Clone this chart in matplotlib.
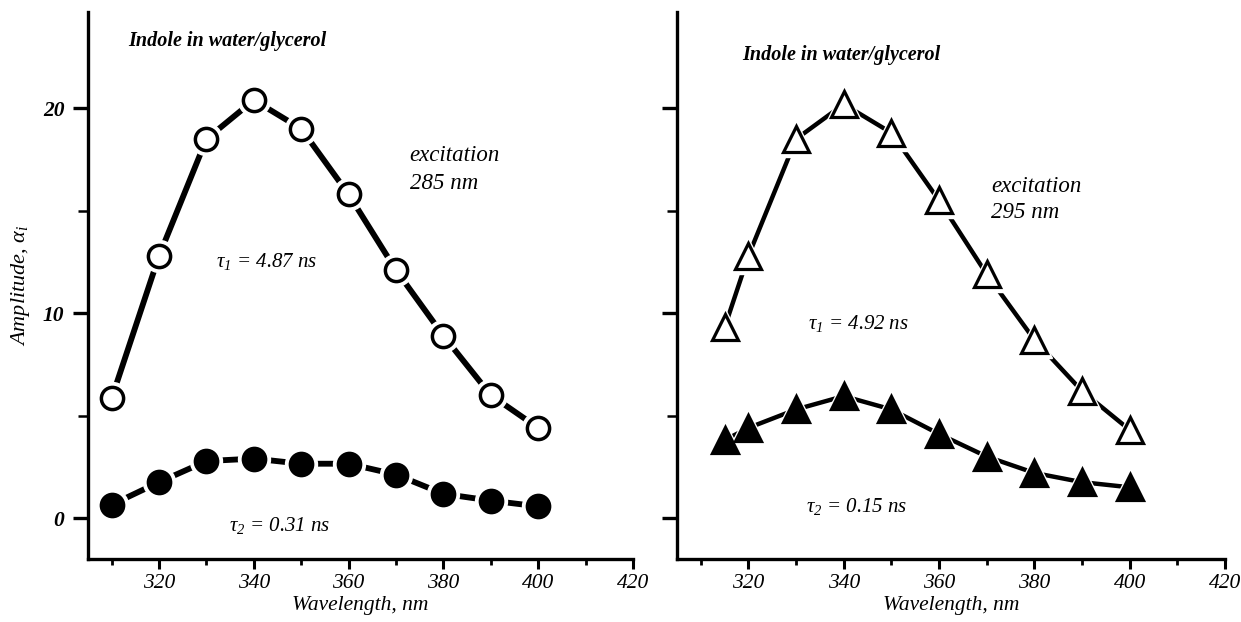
import matplotlib
matplotlib.use("Agg")
import matplotlib.pyplot as plt
from matplotlib.ticker import MultipleLocator

plt.rcParams['font.family'] = ['Liberation Serif', 'DejaVu Serif']
plt.rcParams['mathtext.fontset'] = 'custom'
plt.rcParams['mathtext.rm'] = 'Liberation Serif:italic'
plt.rcParams['mathtext.it'] = 'Liberation Serif:italic'
plt.rcParams['mathtext.bf'] = 'Liberation Serif:bold:italic'

# Left panel: excitation 285 nm (circles)
wl_left = [310, 320, 330, 340, 350, 360, 370, 380, 390, 400]
tau1_left = [5.85, 12.8, 18.5, 20.4, 19.0, 15.8, 12.1, 8.9, 6.0, 4.4]
tau2_left = [0.65, 1.75, 2.78, 2.9, 2.65, 2.65, 2.12, 1.18, 0.85, 0.57]

# Right panel: excitation 295 nm (triangles)
wl_right = [315, 320, 330, 340, 350, 360, 370, 380, 390, 400]
tau1_right = [9.3, 12.8, 18.5, 20.2, 18.8, 15.5, 11.9, 8.7, 6.2, 4.3]
tau2_right = [3.8, 4.4, 5.3, 5.95, 5.3, 4.1, 3.0, 2.2, 1.75, 1.5]

x_ticks = [320, 340, 360, 380, 400, 420]
y_ticks = [0, 10, 20]

fig = plt.figure(figsize=(12.41, 6.22), dpi=100)
axL = fig.add_axes([0.0709, 0.1013, 0.4391, 0.8794])
axR = fig.add_axes([0.5455, 0.1013, 0.4416, 0.8794])


def draw_series(ax, x, y, marker, filled, lw, ms, mew):
    ax.plot(x, y, '-', color='black', lw=lw, solid_capstyle='butt', zorder=2)
    ax.plot(x, y, ls='none', marker=marker, ms=ms + 7, mfc='white', mec='white', zorder=3)
    ax.plot(x, y, ls='none', marker=marker, ms=ms,
            mfc='black' if filled else 'white', mec='black', mew=mew, zorder=4)


draw_series(axL, wl_left, tau1_left, 'o', False, 4.2, 16, 2.5)
draw_series(axL, wl_left, tau2_left, 'o', True, 4.2, 16, 2.5)
draw_series(axR, wl_right, tau1_right, '^', False, 3.2, 18.5, 2.3)
draw_series(axR, wl_right, tau2_right, '^', True, 3.2, 18.5, 2.3)

for ax in (axL, axR):
    ax.set_xlim(305, 420)
    ax.set_ylim(-2.0, 24.7)
    for s in ('top', 'right'):
        ax.spines[s].set_visible(False)
    for s in ('left', 'bottom'):
        ax.spines[s].set_linewidth(2.4)
    ax.set_xticks(x_ticks)
    ax.xaxis.set_minor_locator(MultipleLocator(10))
    ax.set_yticks(y_ticks)
    ax.yaxis.set_minor_locator(MultipleLocator(5))
    ax.tick_params(axis='x', which='major', direction='out', length=7, width=2.2, labelsize=15.5, pad=4)
    ax.tick_params(axis='x', which='minor', direction='out', length=4, width=2.0)
    ax.tick_params(axis='y', which='major', direction='out', length=11, width=2.4, labelsize=15.5, pad=6)
    ax.tick_params(axis='y', which='minor', direction='out', length=7, width=1.8)
    for lab in ax.get_xticklabels() + ax.get_yticklabels():
        lab.set_fontstyle('italic')
    ax.set_xlabel('Wavelength, nm', fontsize=15.5, style='italic', labelpad=2)

for lab in axL.get_yticklabels():
    lab.set_fontweight('bold')
axR.set_yticklabels([])
axL.set_ylabel(r'Amplitude, $\alpha_i$', fontsize=16, style='italic', labelpad=8)

ann = dict(va='center', ha='left', style='italic')

# Left annotations
axL.text(313.5, 23.3, 'Indole in water/glycerol', fontsize=14.5, fontweight='bold', **ann)
axL.text(372.9, 17.7, 'excitation', fontsize=16.5, **ann)
axL.text(372.9, 16.35, '285 nm', fontsize=16.5, **ann)
axL.text(332.0, 12.5, r'$\tau_1$ = 4.87 ns', fontsize=15, **ann)
axL.text(334.8, -0.35, r'$\tau_2$ = 0.31 ns', fontsize=15, **ann)

# Right annotations
axR.text(318.7, 22.6, 'Indole in water/glycerol', fontsize=14.5, fontweight='bold', **ann)
axR.text(371.0, 16.2, 'excitation', fontsize=16.5, **ann)
axR.text(371.0, 14.9, '295 nm', fontsize=16.5, **ann)
axR.text(332.4, 9.5, r'$\tau_1$ = 4.92 ns', fontsize=15, **ann)
axR.text(332.0, 0.55, r'$\tau_2$ = 0.15 ns', fontsize=15, **ann)

fig.savefig('out.png', dpi=100)
